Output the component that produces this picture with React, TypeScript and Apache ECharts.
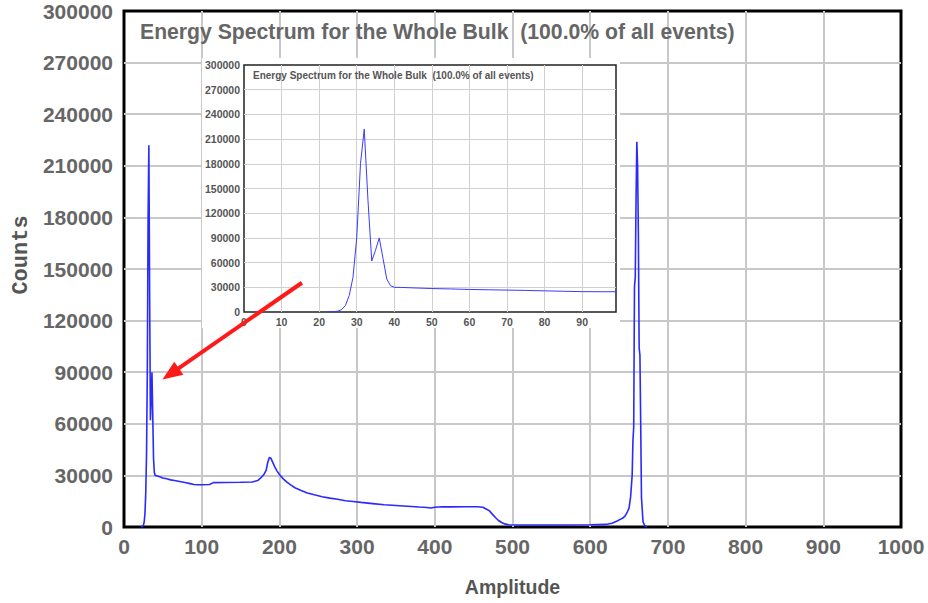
import React, { useEffect, useRef } from "react";
import * as echarts from "echarts";

const TITLE = "Energy Spectrum for the Whole Bulk  (100.0% of all events)";
const X_NAME = "Amplitude";
const Y_NAME = "Counts";

// Amplitude channel (x) and counts (y)
const amplitude = [
  22, 23, 24, 25, 26, 27, 28, 29, 30, 31, 32, 33, 34, 35, 36, 37, 38, 39, 40,
  42, 45, 50, 55, 60, 65, 70, 75, 80, 85, 90, 95, 100, 110, 115, 130, 150, 165,
  172, 176, 180, 183, 185, 187, 189, 191, 194, 197, 200, 205, 210, 215, 220, 228,
  236, 245, 255, 265, 275, 285, 295, 305, 320, 335, 350, 365, 380, 390, 395, 400,
  410, 420, 440, 455, 462, 466, 470, 474, 478, 482, 486, 490, 495, 510, 550, 600,
  620, 628, 634, 638, 642, 645, 648, 650, 652, 654, 655, 656, 657, 658, 659, 660,
  661, 662, 663, 664, 665, 666, 667, 668, 670, 673,
];
const counts = [
  0, 300, 500, 1000, 3000, 8000, 20000, 42000, 90000, 180000, 222000, 135000, 62000, 75000, 90000, 65000, 40000, 32000, 30000,
  29800, 29300, 28500, 28000, 27400, 27000, 26600, 26200, 25700, 25200, 24700, 24600, 24600, 24700, 25800, 25900, 26000, 26200,
  27000, 28500, 30500, 33000, 37500, 40400, 40000, 38000, 35000, 32500, 30500, 28000, 26000, 24300, 22800, 21200,
  19800, 18700, 17600, 16800, 16100, 15300, 14800, 14300, 13600, 12900, 12500, 12100, 11600, 11300, 11000, 11500,
  11800, 11700, 11800, 11800, 11500, 10500, 9500, 7500, 5500, 3800, 2600, 1800, 1300, 1200, 1200, 1300,
  1500, 2200, 3300, 4300, 5200, 6500, 9000, 11000, 17500, 30000, 50000, 58000, 140000, 145000, 190000, 224000,
  210000, 170000, 104000, 100000, 60000, 17000, 10000, 3000, 1000, 0,
];

// Axis ranges
const mainX = { min: 0, max: 1000, interval: 100 };
const mainY = { min: 0, max: 300000, interval: 30000 };
const insetX = { min: 0, max: 99, interval: 10 };
const insetY = { min: 0, max: 300000, interval: 30000 };

// Annotation arrow (data coordinates of main plot)
const arrowFrom = [229, 142000];
const arrowTo = [60, 89000];

const plain = (v: number) => String(v);

export default function App() {
  const ref = useRef<HTMLDivElement>(null);
  useEffect(() => {
    if (!ref.current) return;
    const chart = echarts.init(ref.current, null, { renderer: "svg" });
    const data = amplitude.map((a, i) => [a, counts[i]]);
    const insetData = data.filter((d) => d[0] <= 100);
    const bigLabel = {
      fontFamily: "Liberation Sans",
      fontWeight: "bold" as const,
      fontSize: 21,
      color: "#666",
    };
    const smallLabel = {
      fontFamily: "Liberation Sans",
      fontWeight: "bold" as const,
      fontSize: 10.5,
      color: "#555",
    };
    const mainSplit = {
      lineStyle: { color: "#c8c8c8", width: 2 },
      showMinLine: false,
      showMaxLine: false,
    };
    const insetSplit = {
      lineStyle: { color: "#d0d0d0", width: 1 },
      showMinLine: false,
      showMaxLine: false,
    };
    chart.setOption({
      animation: false,
      backgroundColor: "#fff",
      title: [
        {
          text: TITLE,
          left: 140,
          top: 21,
          padding: 0,
          textStyle: { ...bigLabel, fontSize: 21.2 },
        },
        {
          text: TITLE,
          left: 253,
          top: 70,
          padding: 0,
          z: 8,
          textStyle: { ...smallLabel, fontSize: 10 },
        },
      ],
      graphic: [
        {
          type: "rect",
          z: 3,
          shape: { x: 202, y: 58, width: 418, height: 270 },
          style: { fill: "#fff" },
          silent: true,
        },
      ],
      grid: [
        {
          left: 124,
          top: 11,
          width: 777,
          height: 516,
          show: true,
          containLabel: false,
          outerBoundsMode: "none",
          borderColor: "#000",
          borderWidth: 3,
          backgroundColor: "transparent",
        },
        {
          left: 244,
          top: 65,
          width: 372,
          height: 247,
          show: true,
          z: 4,
          containLabel: false,
          outerBoundsMode: "none",
          borderColor: "#222",
          borderWidth: 1.5,
          backgroundColor: "#fff",
        },
      ],
      xAxis: [
        {
          type: "value",
          gridIndex: 0,
          ...mainX,
          name: X_NAME,
          nameLocation: "middle",
          nameGap: 50,
          nameTextStyle: { ...bigLabel, fontSize: 19.5, color: "#555" },
          axisLine: { show: false },
          axisTick: { show: false },
          axisLabel: { ...bigLabel, margin: 9, formatter: plain },
          splitLine: mainSplit,
        },
        {
          type: "value",
          gridIndex: 1,
          z: 4,
          ...insetX,
          axisLine: { show: false },
          axisTick: { show: false },
          axisLabel: { ...smallLabel, margin: 4, showMaxLabel: false, formatter: plain },
          splitLine: insetSplit,
        },
      ],
      yAxis: [
        {
          type: "value",
          gridIndex: 0,
          ...mainY,
          name: Y_NAME,
          nameLocation: "middle",
          nameGap: 92,
          nameRotate: 90,
          nameTextStyle: {
            fontFamily: "Liberation Mono",
            fontWeight: "bold",
            fontSize: 22,
            color: "#555",
            padding: [0, 0, 0, 28],
          },
          axisLine: { show: false },
          axisTick: { show: false },
          axisLabel: { ...bigLabel, margin: 11, formatter: plain },
          splitLine: mainSplit,
        },
        {
          type: "value",
          gridIndex: 1,
          z: 4,
          ...insetY,
          axisLine: { show: false },
          axisTick: { show: false },
          axisLabel: { ...smallLabel, margin: 4, formatter: plain },
          splitLine: insetSplit,
        },
      ],
      series: [
        {
          type: "line",
          xAxisIndex: 0,
          yAxisIndex: 0,
          data,
          showSymbol: false,
          symbol: "none",
          lineStyle: { color: "#2a2aff", width: 1.6 },
          z: 2,
          markLine: {
            silent: true,
            z: 20,
            symbol: ["none", "triangle"],
            symbolSize: [16, 20],
            label: { show: false },
            lineStyle: { color: "#ff1a1a", width: 4, type: "solid" },
            data: [[{ coord: arrowFrom }, { coord: arrowTo }]],
          },
        },
        {
          type: "line",
          xAxisIndex: 1,
          yAxisIndex: 1,
          data: insetData,
          showSymbol: false,
          symbol: "none",
          lineStyle: { color: "#3a3aff", width: 1 },
          z: 6,
        },
      ],
    });
    return () => chart.dispose();
  }, []);
  return (
    <div
      ref={ref}
      style={{ position: "absolute", left: 0, top: 0, width: 928, height: 603, background: "#fff" }}
    />
  );
}
